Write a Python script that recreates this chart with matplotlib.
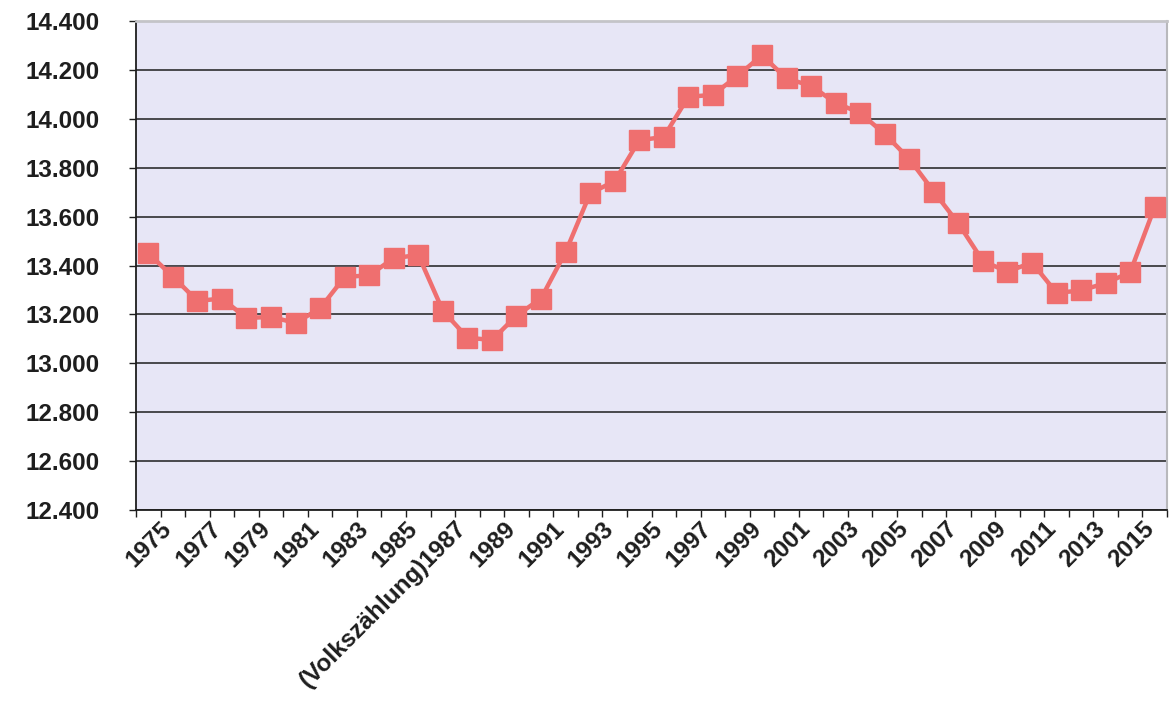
import matplotlib
matplotlib.use("Agg")
import matplotlib.pyplot as plt
import matplotlib.transforms as mtransforms
import numpy as np

# === Data ===
years = list(range(1975, 2017))
values = [
    13450, 13355, 13255, 13265, 13185, 13190, 13165, 13225, 13353, 13360,
    13430, 13443, 13215, 13105, 13095, 13195, 13265, 13455, 13695, 13745,
    13912, 13926, 14090, 14098, 14175, 14260, 14165, 14135, 14065, 14024,
    13938, 13836, 13702, 13572, 13418, 13375, 13412, 13288, 13298, 13328,
    13372, 13640,
]
year_labels = [str(y) for y in years]
year_labels[years.index(1987)] = "(Volkszählung)1987"
y_ticks = [12400, 12600, 12800, 13000, 13200, 13400, 13600, 13800, 14000, 14200, 14400]

# === Styling ===
plt.rcParams.update({
    "font.family": ["Liberation Sans", "DejaVu Sans"],
    "font.weight": "bold",
})
line_color = "#ef6f6f"
plot_bg = "#e7e6f6"
ink = "#1e1e1e"

fig = plt.figure(figsize=(11.72, 7.10), dpi=100)
ax = fig.add_axes([136 / 1172, 1 - 510 / 710, (1167 - 136) / 1172, (510 - 21) / 710])
ax.set_facecolor(plot_bg)

x = np.arange(len(years))
ax.plot(x, values, color=line_color, lw=3.2, marker="s", ms=14,
        mfc=line_color, mec=line_color, zorder=3)

# y axis
ax.set_ylim(y_ticks[0], y_ticks[-1])
ax.set_yticks(y_ticks)
ax.set_yticklabels([f"{v:,}".replace(",", ".") for v in y_ticks], fontsize=17.5, fontweight="bold")
ax.yaxis.grid(True, color=ink, lw=1.1)
ax.set_axisbelow(True)
ax.tick_params(axis="y", direction="out", length=5, width=1, pad=21, colors=ink)

# x axis: category style, ticks between categories, every other label
ax.set_xlim(-0.5, len(years) - 0.5)
ax.set_xticks(x[::2])
ax.set_xticklabels(year_labels[::2], rotation=45, ha="right", va="top",
                   rotation_mode="anchor", fontsize=17.5, fontweight="bold")
ax.set_xticks(np.arange(-0.5, len(years), 1), minor=True)
ax.tick_params(axis="x", which="major", length=0, pad=5, colors=ink)
ax.tick_params(axis="x", which="minor", direction="out", length=5, width=1, color=ink)

# nudge rotated labels to the right, like the spreadsheet layout
shift = mtransforms.ScaledTranslation(12 / 100, 0, fig.dpi_scale_trans)
for lbl in ax.get_xticklabels():
    lbl.set_transform(lbl.get_transform() + shift)

for side in ["left", "bottom"]:
    ax.spines[side].set_color(ink)
    ax.spines[side].set_linewidth(1.3)
ax.spines["top"].set_color("#c4c4c8")
ax.spines["top"].set_linewidth(2)
ax.spines["right"].set_color("#b8b8bc")
ax.spines["right"].set_linewidth(1.5)

fig.savefig("out.png", dpi=100, facecolor="white")
